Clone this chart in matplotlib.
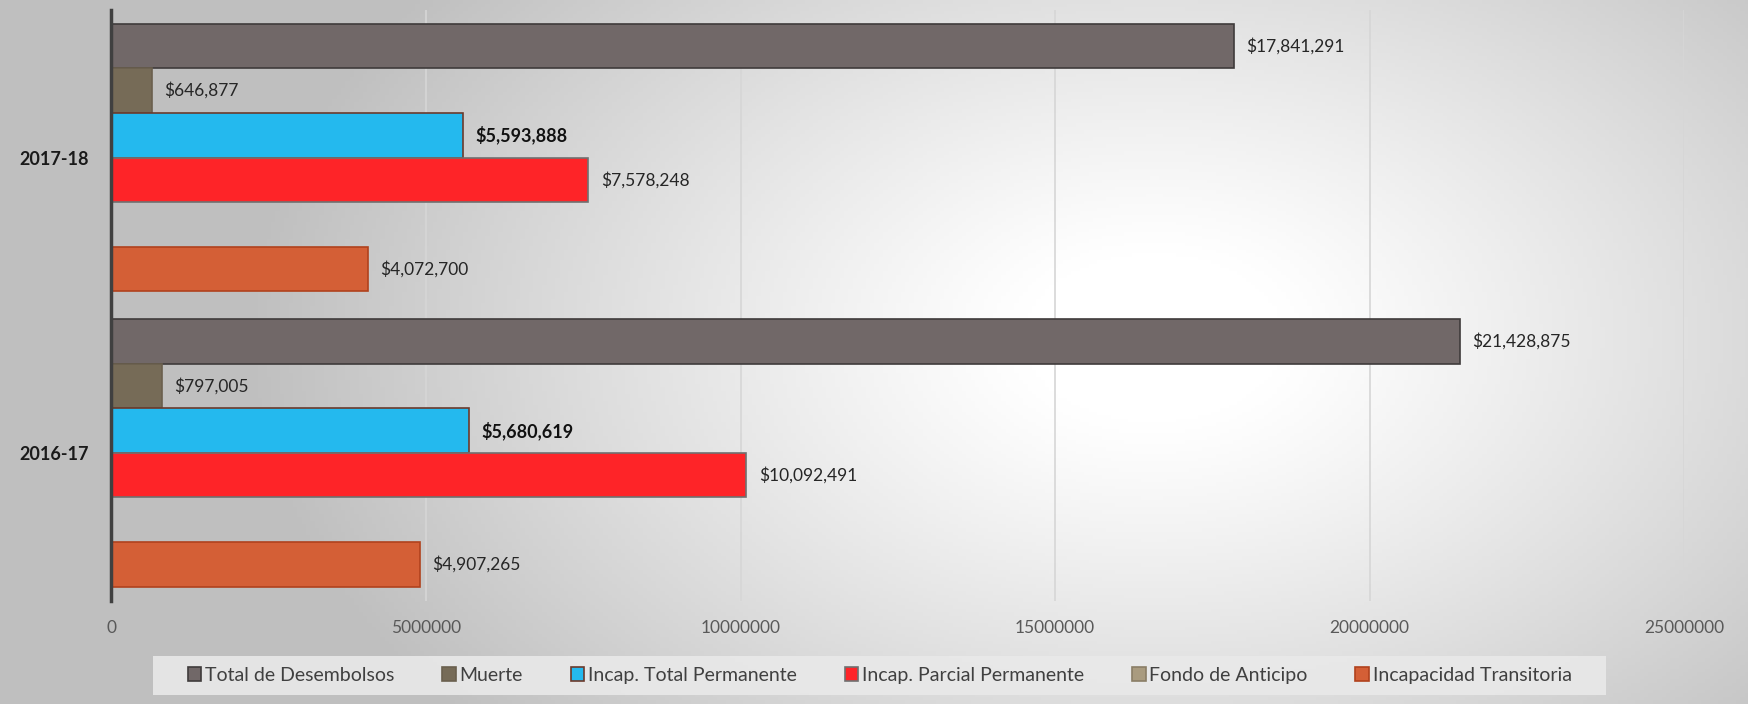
import numpy as np
import matplotlib.pyplot as plt
from matplotlib.patches import Patch, Rectangle

plt.rcParams['font.family'] = ['Lato', 'DejaVu Sans']

# data
years = ["2016-17", "2017-18"]
series = ["Total de Desembolsos", "Muerte", "Incap. Total Permanente",
          "Incap. Parcial Permanente", "Fondo de Anticipo", "Incapacidad Transitoria"]
total = [21428875, 17841291]
muerte = [797005, 646877]
itp = [5680619, 5593888]
ipp = [10092491, 7578248]
fondo = [0, 0]
it = [4907265, 4072700]
xticks = [0, 5000000, 10000000, 15000000, 20000000, 25000000]

values = [total, muerte, itp, ipp, fondo, it]
colors = ["#716868", "#766b57", "#24b9ee", "#fe2428", "#a99b7f", "#d45f36"]
edges = ["#3f3b3b", "#6a604e", "#6b3a2c", "#707070", "#8a7e66", "#b0421d"]
bold = [False, False, True, False, False, False]

fig = plt.figure(figsize=(17.49, 7.04), dpi=100)

# radial gradient background
bg = fig.add_axes([0, 0, 1, 1], zorder=-5)
gx, gy = np.meshgrid(np.linspace(0, 1, 400), np.linspace(0, 1, 200))
d = np.sqrt(((gx - 0.66) / 0.62) ** 2 + ((gy - 0.48) / 1.0) ** 2)
shade = np.clip(1.0 - 0.36 * np.clip(d - 0.12, 0, None) ** 1.1, 0.75, 1.0)
bg.imshow(np.dstack([shade] * 3), aspect='auto', extent=(0, 1, 0, 1), origin='upper')
bg.axis('off')
# legend backdrop
bg.add_patch(Rectangle((0.0874, 0.0127), 0.8306, 0.0555, transform=fig.transFigure,
                       facecolor='#e9e9e9', edgecolor='none', alpha=0.9))

ax = fig.add_axes([0.0637, 0.147, 0.8993, 0.839])
ax.set_facecolor('none')

y = np.arange(len(years))
h = 0.151
for i, (name, vals) in enumerate(zip(series, values)):
    off = (2.5 - i) * h
    bars = ax.barh(y + off, vals, height=h, color=colors[i], edgecolor=edges[i],
                   linewidth=1.2, label=name, zorder=3)
    for b, v in zip(bars, vals):
        if v == 0:
            continue
        ax.annotate(f"${v:,.0f}", (v, b.get_y() + b.get_height() / 2),
                    xytext=(9, 0), textcoords='offset points', va='center', ha='left',
                    fontsize=13 if bold[i] else 12.5,
                    color='#111111' if bold[i] else '#262626',
                    fontweight='bold' if bold[i] else 'normal')

ax.set_xlim(0, 25000000)
ax.set_ylim(-0.5, 1.5)
ax.set_xticks(xticks)
ax.set_xticklabels([str(t) for t in xticks])
ax.set_yticks(y)
ax.set_yticklabels(years, fontweight='bold', fontsize=13, color='#1a1a1a')
ax.tick_params(axis='x', length=0, pad=14, labelsize=12.5, labelcolor='#595959')
ax.tick_params(axis='y', length=0, pad=16)
ax.grid(axis='x', color='#d6d6d6', linewidth=1.2, zorder=0)
for s in ['top', 'right', 'bottom']:
    ax.spines[s].set_visible(False)
ax.spines['left'].set_color('#404040')
ax.spines['left'].set_linewidth(2.5)
ax.spines['left'].set_zorder(4)
ax.set_axisbelow(True)

handles = [Patch(facecolor=colors[i], edgecolor=edges[i], linewidth=1.2) for i in range(len(series))]
leg = fig.legend(handles, series, loc='center', bbox_to_anchor=(0.503, 0.041), ncol=6,
                 fontsize=14, handlelength=0.7, handleheight=0.7, handletextpad=0.2,
                 columnspacing=2.45, frameon=False, borderpad=0.3, borderaxespad=0)
for t in leg.get_texts():
    t.set_color('#404040')

fig.savefig("out.png", dpi=100)
